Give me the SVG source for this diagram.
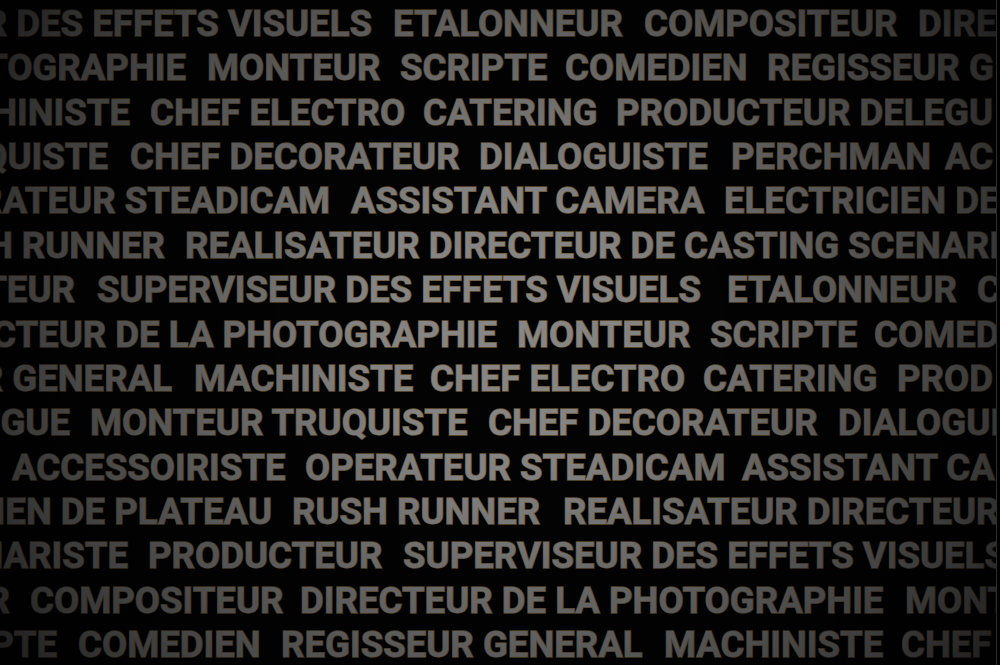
<svg xmlns="http://www.w3.org/2000/svg" width="1000" height="665" viewBox="0 0 1000 665">
<defs>
<style>
text{font-family:Roboto,"Liberation Sans",sans-serif;font-weight:700;font-size:36.6px;fill:#878787;stroke:#6e5530;stroke-width:1.4px;paint-order:stroke;}
.e{text-anchor:end;}
</style>
<radialGradient id="vig" gradientUnits="userSpaceOnUse" cx="500" cy="330" r="700">
<stop offset="0" stop-color="#000" stop-opacity="0"/>
<stop offset="0.2" stop-color="#000" stop-opacity="0.03"/>
<stop offset="0.47" stop-color="#000" stop-opacity="0.33"/>
<stop offset="0.71" stop-color="#000" stop-opacity="0.58"/>
<stop offset="0.86" stop-color="#000" stop-opacity="0.8"/>
<stop offset="1" stop-color="#000" stop-opacity="0.9"/>
</radialGradient>
</defs>
<rect x="0" y="0" width="1000" height="665" fill="#030303"/>
<g id="wall">
<g id="row1"><text class="e" x="372" y="36">R DES EFFETS VISUELS</text><text x="393" y="36">ETALONNEUR</text><text x="644" y="36">COMPOSITEUR</text><text x="918" y="36">DIRE</text></g>
<g id="row2"><text class="e" x="186" y="80.4">TOGRAPHIE</text><text x="207" y="80.4">MONTEUR</text><text x="400" y="80.4">SCRIPTE</text><text x="565" y="80.4">COMEDIEN</text><text x="767" y="80.4">REGISSEUR G</text></g>
<g id="row3"><text class="e" x="130" y="124.7">HINISTE</text><text x="150" y="124.7">CHEF ELECTRO</text><text x="423" y="124.7">CATERING</text><text x="616" y="124.7">PRODUCTEUR DELEGU</text></g>
<g id="row4"><text class="e" x="108" y="169.1">QUISTE</text><text x="130" y="169.1">CHEF DECORATEUR</text><text x="479" y="169.1">DIALOGUISTE</text><text x="731" y="169.1">PERCHMAN</text><text x="945" y="169.1">AC</text></g>
<g id="row5"><text class="e" x="330" y="213.4">RATEUR STEADICAM</text><text x="351" y="213.4">ASSISTANT CAMERA</text><text x="724" y="213.4">ELECTRICIEN DE</text></g>
<g id="row6"><text class="e" x="165" y="257.8">H RUNNER</text><text x="185" y="257.8">REALISATEUR DIRECTEUR DE CASTING</text><text x="848" y="257.8">SCENARI</text></g>
<g id="row7"><text class="e" x="75" y="302.2">TEUR</text><text x="97" y="302.2">SUPERVISEUR DES EFFETS VISUELS</text><text x="727" y="302.2">ETALONNEUR</text><text x="977" y="302.2">C</text></g>
<g id="row8"><text class="e" x="497" y="346.5">CTEUR DE LA PHOTOGRAPHIE</text><text x="517" y="346.5">MONTEUR</text><text x="710" y="346.5">SCRIPTE</text><text x="874" y="346.5">COMED</text></g>
<g id="row9"><text class="e" x="172" y="390.9">R GENERAL</text><text x="194" y="390.9">MACHINISTE</text><text x="430" y="390.9">CHEF ELECTRO</text><text x="703" y="390.9">CATERING</text><text x="897" y="390.9">PROD</text></g>
<g id="row10"><text class="e" x="70" y="435.2">GUE</text><text x="90" y="435.2">MONTEUR TRUQUISTE</text><text x="488" y="435.2">CHEF DECORATEUR</text><text x="838" y="435.2">DIALOGUIS</text></g>
<g id="row11"><text x="12" y="479.6">ACCESSOIRISTE</text><text x="305" y="479.6">OPERATEUR STEADICAM</text><text x="742" y="479.6">ASSISTANT CA</text></g>
<g id="row12"><text class="e" x="272" y="524">IEN DE PLATEAU</text><text x="292" y="524">RUSH RUNNER</text><text x="563" y="524">REALISATEUR DIRECTEUR</text></g>
<g id="row13"><text class="e" x="128" y="568.3">NARISTE</text><text x="148" y="568.3">PRODUCTEUR</text><text x="403" y="568.3">SUPERVISEUR DES EFFETS VISUELS</text></g>
<g id="row14"><text class="e" x="10" y="612.7">R</text><text x="30" y="612.7">COMPOSITEUR</text><text x="300" y="612.7">DIRECTEUR DE LA PHOTOGRAPHIE</text><text x="905" y="612.7">MONT</text></g>
<g id="row15"><text class="e" x="57" y="657">PTE</text><text x="78" y="657">COMEDIEN</text><text x="281" y="657">REGISSEUR GENERAL</text><text x="664" y="657">MACHINISTE</text><text x="901" y="657">CHEF</text></g>
</g>
<rect x="0" y="0" width="1000" height="665" fill="url(#vig)"/>
<rect x="997" y="0" width="3" height="665" fill="#000"/>
<line x1="996.5" y1="0" x2="996.5" y2="665" stroke="#2e2e2e" stroke-width="1"/>
</svg>
